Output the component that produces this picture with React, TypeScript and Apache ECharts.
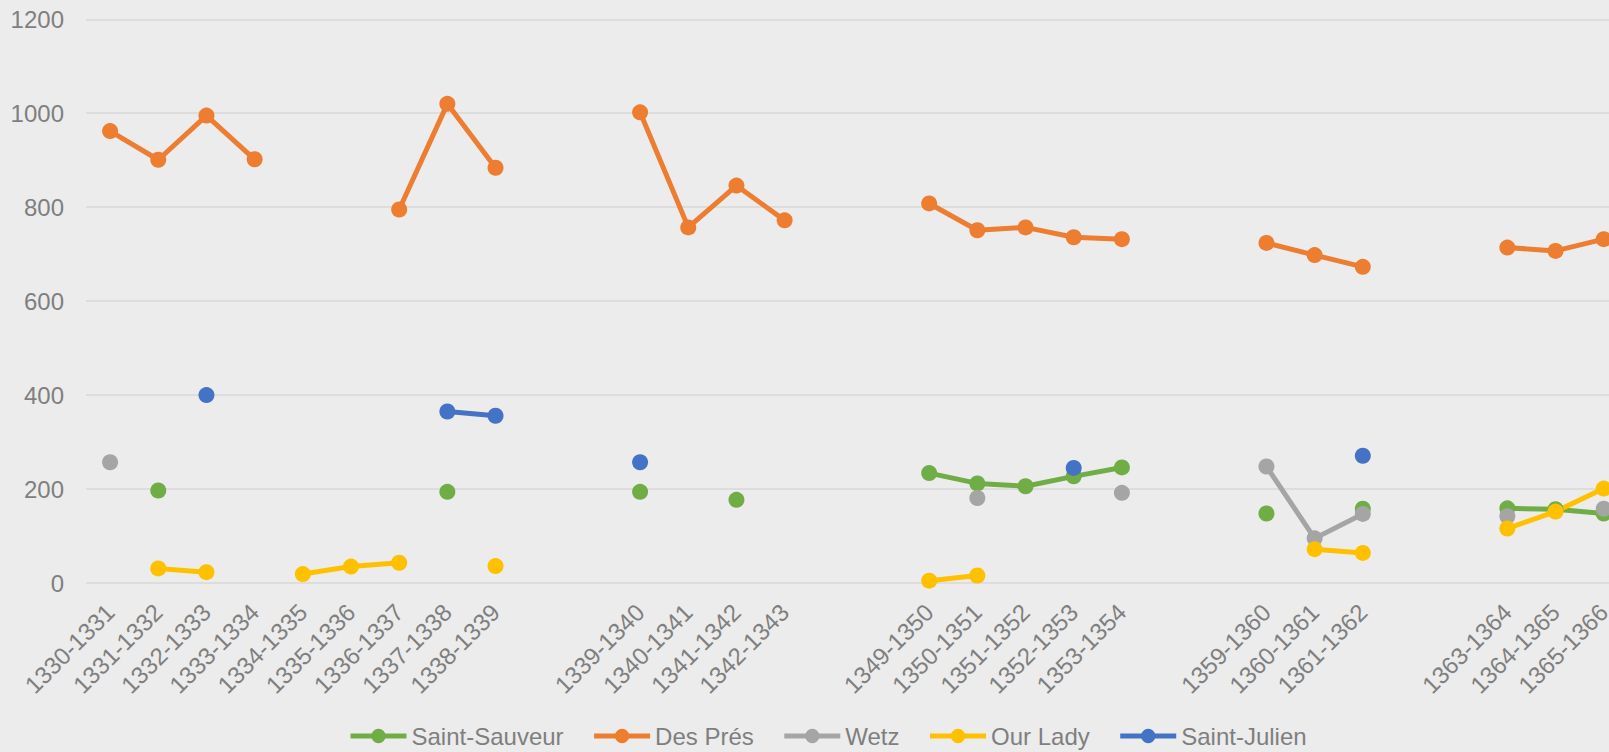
import React, { useEffect, useRef } from "react";
import * as echarts from "echarts";

const categories = [
  "1330-1331", "1331-1332", "1332-1333", "1333-1334", "1334-1335", "1335-1336", "1336-1337", "1337-1338", "1338-1339",
  "", "",
  "1339-1340", "1340-1341", "1341-1342", "1342-1343",
  "", "",
  "1349-1350", "1350-1351", "1351-1352", "1352-1353", "1353-1354",
  "", "",
  "1359-1360", "1360-1361", "1361-1362",
  "", "",
  "1363-1364", "1364-1365", "1365-1366",
];

const saintSauveur = [
  null, 197, null, null, null, null, null, 194, null,
  null, null,
  194, null, 177, null,
  null, null,
  234, 212, 206, 227, 246,
  null, null,
  148, null, 158,
  null, null,
  159, 157, 148,
];

const desPres = [
  962, 901, 995, 902, null, null, 795, 1020, 884,
  null, null,
  1002, 757, 846, 772,
  null, null,
  808, 751, 757, 736, 732,
  null, null,
  724, 698, 673,
  null, null,
  714, 707, 732,
];

const wetz = [
  257, null, null, null, null, null, null, null, null,
  null, null,
  null, null, null, null,
  null, null,
  null, 181, null, null, 192,
  null, null,
  248, 95, 147,
  null, null,
  142, null, 158,
];

const ourLady = [
  null, 31, 23, null, 19, 35, 43, null, 36,
  null, null,
  null, null, null, null,
  null, null,
  5, 16, null, null, null,
  null, null,
  null, 72, 64,
  null, null,
  116, 152, 201,
];

const saintJulien = [
  null, null, 400, null, null, null, null, 365, 356,
  null, null,
  257, null, null, null,
  null, null,
  null, null, null, 245, null,
  null, null,
  null, null, 271,
  null, null,
  null, null, null,
];

const seriesNames = ["Saint-Sauveur", "Des Prés", "Wetz", "Our Lady", "Saint-Julien"];
const seriesColors = ["#70AD47", "#ED7D31", "#A5A5A5", "#FFC000", "#4472C4"];
const seriesData = [saintSauveur, desPres, wetz, ourLady, saintJulien];

const FONT = "'Liberation Sans', Arial, sans-serif";
const TEXT = "#7F7F7F";

export default function App() {
  const ref = useRef<HTMLDivElement>(null);

  useEffect(() => {
    if (!ref.current) return;
    const chart = echarts.init(ref.current, undefined, { renderer: "svg" });
    chart.setOption({
      animation: false,
      backgroundColor: "#ECECEC",
      textStyle: { fontFamily: FONT },
      grid: { left: 86, top: 19.3, width: 1541.8, height: 563.7, containLabel: false },
      legend: {
        left: 343,
        top: 719,
        itemWidth: 56,
        itemHeight: 18,
        itemGap: 28,
        lineStyle: { width: 5 },
        textStyle: { fontFamily: FONT, fontSize: 24, color: TEXT },
        data: seriesNames,
      },
      xAxis: {
        type: "category",
        data: categories,
        boundaryGap: true,
        axisLine: { show: false },
        axisTick: { show: false },
        splitLine: { show: false },
        axisLabel: {
          interval: 0,
          rotate: 45,
          margin: 25,
          fontFamily: FONT,
          fontSize: 24,
          color: TEXT,
        },
      },
      yAxis: {
        type: "value",
        min: 0,
        max: 1200,
        interval: 200,
        axisLine: { show: false },
        axisTick: { show: false },
        splitLine: { show: true, lineStyle: { color: "#D9D9D9", width: 1.5 } },
        axisLabel: {
          margin: 22,
          fontFamily: FONT,
          fontSize: 24,
          color: TEXT,
          formatter: (v: number) => String(v),
        },
      },
      series: seriesNames.map((name, i) => ({
        name,
        type: "line",
        data: seriesData[i],
        connectNulls: false,
        symbol: "circle",
        symbolSize: 16,
        showSymbol: true,
        lineStyle: { width: 5, color: seriesColors[i] },
        itemStyle: { color: seriesColors[i] },
        emphasis: { disabled: true },
      })),
    });
    return () => chart.dispose();
  }, []);

  return (
    <div style={{ position: "fixed", left: 0, top: 0, width: 1609, height: 752, overflow: "hidden", background: "#ECECEC" }}>
      <div ref={ref} style={{ width: 1680, height: 752 }} />
    </div>
  );
}
